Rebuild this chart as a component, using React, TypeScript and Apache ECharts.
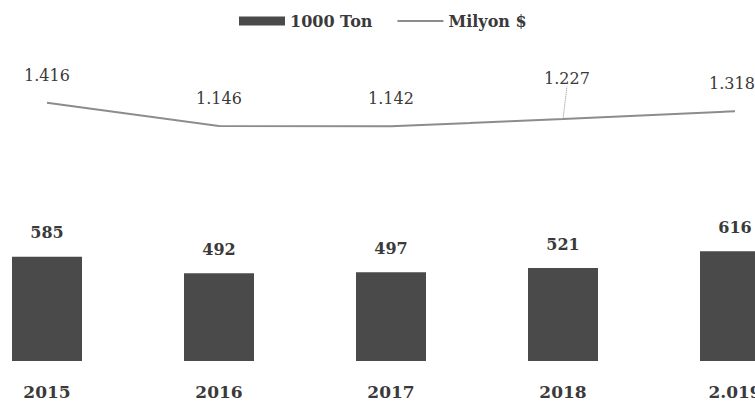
import React, { useEffect, useRef } from "react";
import * as echarts from "echarts";

const categories = ["2015", "2016", "2017", "2018", "2.019"];
const tonValues = [585, 492, 497, 521, 616];
const usdValues = [1416, 1146, 1142, 1227, 1318];
const usdLabels = ["1.416", "1.146", "1.142", "1.227", "1.318"];
const seriesNames = ["1000 Ton", "Milyon $"];

export default function App() {
  const ref = useRef<HTMLDivElement>(null);
  useEffect(() => {
    if (!ref.current) return;
    const chart = echarts.init(ref.current, null, { renderer: "svg" });
    const textColor = "#3a3a3a";
    const font = "'DejaVu Serif', serif";
    chart.setOption({
      animation: false,
      backgroundColor: "#ffffff",
      legend: {
        top: 8,
        left: 273,
        itemWidth: 46,
        itemHeight: 9,
        itemGap: 24,
        textStyle: { color: textColor, fontSize: 16, fontWeight: "bold", fontFamily: font },
        data: [
          { name: seriesNames[0], icon: "rect" },
          { name: seriesNames[1], itemStyle: { color: "rgba(0,0,0,0)", borderWidth: 0 } },
        ],
      },
      grid: { left: 0, right: 0, top: 40, bottom: 47, containLabel: false },
      xAxis: {
        type: "category",
        data: categories,
        axisLine: { show: false },
        axisTick: { show: false },
        axisLabel: {
          margin: 22,
          color: textColor,
          fontSize: 17,
          fontWeight: "bold",
          fontFamily: font,
        },
      },
      yAxis: [
        { type: "value", min: 0, max: 1800, show: false, splitLine: { show: false } },
        { type: "value", min: -1600, max: 2150, show: false, splitLine: { show: false } },
      ],
      series: [
        {
          name: seriesNames[0],
          type: "bar",
          yAxisIndex: 0,
          barWidth: 70,
          data: tonValues,
          itemStyle: { color: "#4a4a4a" },
          label: {
            show: true,
            position: "top",
            distance: 16,
            color: textColor,
            fontSize: 16,
            fontWeight: "bold",
            fontFamily: font,
          },
        },
        {
          name: seriesNames[1],
          type: "line",
          yAxisIndex: 1,
          symbol: "circle",
          symbolSize: 1,
          showSymbol: true,
          lineStyle: { color: "#8c8c8c", width: 2 },
          itemStyle: { color: "rgba(0,0,0,0)", borderWidth: 0 },
          data: usdValues.map((v, i) =>
            i === 3
              ? { value: v, labelLine: { show: true, lineStyle: { color: "#8c8c8c", width: 1, type: "dotted" } } }
              : { value: v }
          ),
          label: {
            show: true,
            position: "top",
            distance: 19,
            color: textColor,
            opacity: 1,
            fontSize: 16,
            fontFamily: font,
            formatter: (p: any) => usdLabels[p.dataIndex],
          },
          labelLayout: (p: any) =>
            p.dataIndex === 3 ? { dy: -13, dx: 4 } : p.dataIndex === 4 ? { dx: -3 } : {},
        },
      ],
    });
    return () => chart.dispose();
  }, []);
  return (
    <div
      ref={ref}
      style={{ position: "fixed", left: -39, top: 0, width: 860, height: 408 }}
    />
  );
}
